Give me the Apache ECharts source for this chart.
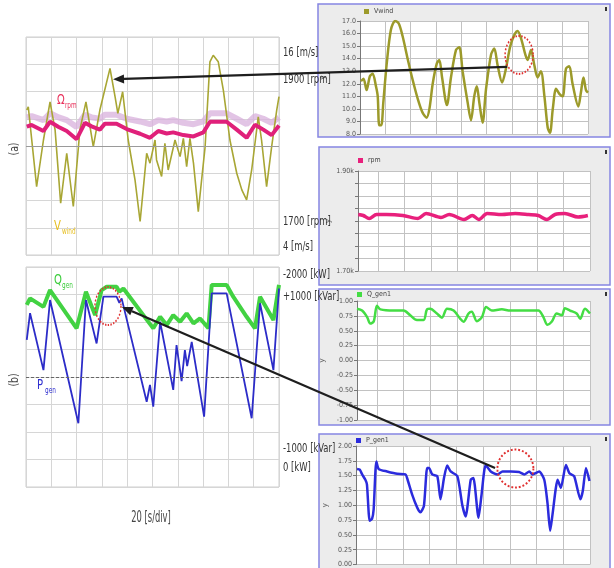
<!DOCTYPE html>
<html><head><meta charset="utf-8">
<script src="https://cdn.jsdelivr.net/npm/echarts@6/dist/echarts.min.js"></script>
<style>html,body{margin:0;padding:0;background:#fff}#c{width:614px;height:568px}</style>
</head><body><div id="c"></div>
<script>
// ---------- data (left: oscilloscope, units = divisions) ----------
const scopeVwindX = [0.03,0.09,0.42,0.69,0.95,1.15,1.37,1.61,1.87,2.13,2.37,2.66,2.92,3.32,3.52,3.63,3.82,4.04,4.31,4.51,4.77,4.90,5.10,5.16,5.36,5.49,5.62,5.89,6.09,6.22,6.35,6.48,6.62,6.81,7.08,7.27,7.40,7.60,7.80,8.06,8.33,8.53,8.72,8.92,9.18,9.31,9.51,9.71,9.91,10.0];
const scopeVwindY = [1.32,1.44,-1.49,0.22,1.62,0.59,-2.10,-0.27,-2.22,0.59,1.62,-0.02,1.32,2.85,1.81,1.20,1.99,0.22,-1.25,-2.77,-0.27,-0.63,0.22,-0.51,-1.12,0.10,-0.88,0.22,-0.39,0.28,-0.76,0.28,-0.63,-2.41,-0.02,3.09,3.33,3.09,2.05,0.22,-1.00,-1.61,-1.98,-0.88,1.07,0.22,-1.49,-0.02,1.32,1.81];
const scopeOmegaX = [0.03,0.22,0.69,0.95,1.29,1.61,2.00,2.33,2.59,2.92,3.12,3.58,3.98,4.51,4.90,5.23,5.56,5.82,6.22,6.62,7.01,7.27,7.93,8.33,8.72,9.05,9.38,9.71,10.0];
const scopeOmegaY = [0.71,0.77,0.55,0.89,0.70,0.55,0.25,0.85,0.72,0.60,0.82,0.82,0.62,0.45,0.30,0.55,0.46,0.50,0.40,0.35,0.50,0.89,0.89,0.60,0.30,0.78,0.60,0.40,0.75];
const scopeOmegaFringe = [1.05,1.10,0.95,1.20,1.05,0.95,0.70,1.15,1.05,1.00,1.15,1.15,1.00,0.90,0.80,0.95,0.90,0.95,0.85,0.80,0.90,1.20,1.20,1.00,0.80,1.10,1.00,0.85,1.05];
const scopeQX = [0.03,0.16,0.69,0.95,2.00,2.37,2.73,2.99,3.19,3.58,3.69,3.85,5.03,5.30,5.56,5.82,6.09,6.35,6.62,6.88,7.21,7.34,7.93,8.19,8.72,9.05,9.25,9.78,10.0];
const scopeQY = [2.62,2.86,2.55,3.16,1.77,3.10,2.25,3.16,3.28,3.28,3.10,3.22,1.77,2.19,1.89,2.25,2.01,2.31,1.95,2.13,1.77,3.35,3.35,2.92,2.19,1.77,2.92,2.07,3.35];
const scopePX = [0.03,0.16,0.69,0.95,2.07,2.37,2.79,3.06,3.58,3.69,3.78,4.77,4.90,5.03,5.30,5.82,5.95,6.15,6.28,6.37,6.55,7.04,7.34,7.93,8.92,9.25,9.78,10.0];
const scopePY = [1.35,2.32,0.25,2.80,-1.68,2.80,1.22,2.92,2.92,2.70,2.86,-0.90,-0.29,-1.08,2.01,-0.47,1.16,-0.15,0.98,0.40,1.28,-1.44,3.04,3.04,-1.50,2.68,0.25,3.22];

// ---------- data (right: simulation panels) ----------
const vwindX = [0.04,0.14,0.26,0.39,0.50,0.63,0.70,0.76,0.84,0.92,1.05,1.22,1.39,1.53,1.68,1.88,2.08,2.28,2.47,2.63,2.74,2.87,3.03,3.13,3.24,3.43,3.59,3.79,3.92,4.05,4.25,4.38,4.51,4.61,4.71,4.84,4.97,5.17,5.30,5.43,5.61,5.76,5.96,6.22,6.36,6.53,6.62,6.75,6.88,7.01,7.14,7.28,7.41,7.50,7.61,7.74,7.87,8.00,8.13,8.26,8.39,8.62,8.72,8.82,8.92,9.0];
const vwindY = [12.2,12.4,11.5,12.6,12.8,11.8,11.0,8.7,8.7,10.5,13.5,16.3,17.0,16.8,15.8,14.0,12.3,10.8,9.7,9.3,10.0,12.0,13.6,13.9,12.5,10.3,12.5,14.7,14.9,13.0,10.5,9.1,11.0,11.8,10.5,8.9,11.5,14.3,14.8,13.5,12.1,13.2,15.2,16.2,15.6,14.3,13.9,14.7,13.5,12.5,13.0,11.0,8.5,8.1,10.0,11.6,11.2,11.0,13.2,13.4,12.0,10.2,11.3,12.5,11.5,11.3];
const rpmX = [0.01,0.20,0.42,0.70,1.07,1.69,2.26,2.57,3.13,3.44,4.00,4.31,4.56,4.87,5.43,5.93,6.43,6.80,7.12,7.43,7.80,8.30,8.67];
const rpmY = [1.813,1.811,1.805,1.813,1.813,1.811,1.805,1.815,1.807,1.813,1.803,1.811,1.803,1.815,1.813,1.815,1.813,1.811,1.803,1.813,1.815,1.808,1.811];
const qX = [0,0.19,0.38,0.50,0.63,0.75,0.88,1.38,1.75,2.0,2.25,2.5,2.63,2.75,3.0,3.19,3.38,3.63,3.88,4.0,4.19,4.31,4.5,4.69,4.85,5.06,5.44,5.75,6.25,6.81,7.0,7.15,7.31,7.5,7.69,7.81,8.0,8.25,8.38,8.56,8.75];
const qY = [0.87,0.84,0.73,0.62,0.66,0.92,0.86,0.84,0.84,0.76,0.68,0.68,0.86,0.87,0.79,0.72,0.87,0.84,0.70,0.65,0.79,0.82,0.66,0.73,0.90,0.84,0.86,0.84,0.84,0.84,0.73,0.60,0.65,0.79,0.76,0.88,0.84,0.79,0.70,0.87,0.79];
const pX = [0.04,0.14,0.23,0.35,0.41,0.51,0.60,0.66,0.76,0.85,1.16,1.54,1.85,1.91,2.10,2.29,2.41,2.54,2.66,2.73,2.85,3.04,3.16,3.29,3.41,3.54,3.79,3.98,4.10,4.29,4.39,4.58,4.69,4.85,5.04,5.29,5.48,5.79,6.10,6.29,6.48,6.60,6.85,7.04,7.16,7.26,7.35,7.54,7.66,7.85,7.98,8.16,8.39,8.48,8.60,8.73];
const pY = [1.61,1.60,1.52,1.43,1.35,0.74,0.77,0.93,1.74,1.61,1.57,1.53,1.52,1.46,1.18,0.96,0.88,0.99,1.63,1.63,1.52,1.49,1.10,1.46,1.67,1.57,1.49,0.99,0.81,1.43,1.46,0.79,1.16,1.68,1.57,1.52,1.57,1.57,1.56,1.52,1.57,1.52,1.57,1.43,1.04,0.57,0.85,1.43,1.29,1.68,1.54,1.49,1.10,1.24,1.63,1.41];

// tick positions for right panels (x) and labels
const simXTicks = [0,0.75,1.75,2.75,3.75,4.75,5.75,6.75,7.75,8.75];
const sideLabels = [
  ['16 [m/s]', 53], ['1900 [rpm]', 80], ['1700 [rpm]', 222], ['4 [m/s]', 247],
  ['-2000 [kW]', 275], ['+1000 [kVar]', 297], ['-1000 [kVar]', 449], ['0 [kW]', 468]
];

const zip = (xs, ys) => xs.map((x, i) => [x, ys[i]]);
const NARROW = '"Liberation Sans Narrow","DejaVu Sans Condensed","Liberation Sans",sans-serif';

const chart = echarts.init(document.getElementById('c'), null, {renderer: 'canvas'});

const scopeX = gi => ({gridIndex: gi, type: 'value', min: 0, max: 10, interval: 1,
  axisLine: {show: false}, axisTick: {show: false}, axisLabel: {show: false},
  splitLine: {show: true, lineStyle: {color: '#d6d6d6', width: 1}}});
const scopeY = gi => ({gridIndex: gi, type: 'value', min: -4, max: 4, interval: 1,
  axisLine: {show: false}, axisTick: {show: false}, axisLabel: {show: false},
  splitLine: {show: true, lineStyle: {color: '#d6d6d6', width: 1}}});
const simX = (gi, opts) => Object.assign({gridIndex: gi, type: 'value', min: 0,
  axisLine: {show: false}, axisTick: {show: false}, axisLabel: {show: false},
  splitLine: {show: true, lineStyle: {color: '#c2c2c2', width: 1}}}, opts);
const simY = (gi, opts) => Object.assign({gridIndex: gi, type: 'value',
  axisLine: {show: true, lineStyle: {color: '#777'}},
  axisTick: {show: true, length: 3, lineStyle: {color: '#777'}},
  axisLabel: {fontSize: 7, color: '#555', margin: 4, fontFamily: NARROW},
  splitLine: {show: true, lineStyle: {color: '#c2c2c2', width: 1}},
  name: 'y', nameLocation: 'middle', nameRotate: 90,
  nameTextStyle: {fontSize: 8, color: '#666'}}, opts);

const legendCommon = {itemWidth: 5, itemHeight: 5, icon: 'rect', padding: 0, selectedMode: false,
  textStyle: {fontSize: 7, color: '#444', fontFamily: NARROW}, itemGap: 2};

const option = {
  animation: false,
  backgroundColor: '#fff',
  grid: [
    {left: 26, top: 37, width: 253, height: 218, show: true, backgroundColor: '#fff', borderColor: '#cfcfcf', borderWidth: 1},
    {left: 26, top: 267, width: 253, height: 220, show: true, backgroundColor: '#fff', borderColor: '#cfcfcf', borderWidth: 1},
    {left: 360, top: 21, width: 228, height: 113, show: true, backgroundColor: '#fff', borderWidth: 0},
    {left: 358, top: 171, width: 232, height: 100, show: true, backgroundColor: '#fff', borderWidth: 0},
    {left: 357, top: 301, width: 233, height: 119, show: true, backgroundColor: '#fff', borderWidth: 0},
    {left: 356, top: 446, width: 234, height: 120, show: true, backgroundColor: '#fff', borderWidth: 0}
  ],
  xAxis: [
    scopeX(0), scopeX(1),
    simX(2, {max: 9, interval: 1}),
    simX(3, {max: 8.75, axisTick: {show: false, customValues: simXTicks}}),
    simX(4, {max: 8.75, axisTick: {show: false, customValues: simXTicks}}),
    simX(5, {max: 8.75, axisTick: {show: false, customValues: simXTicks}})
  ],
  yAxis: [
    scopeY(0), scopeY(1),
    simY(2, {min: 8, max: 17, interval: 1, nameGap: 33,
      axisLabel: {fontSize: 7, color: '#555', margin: 4, fontFamily: NARROW, formatter: v => v.toFixed(1)}}),
    simY(3, {min: 1.7, max: 1.9, interval: 0.025, nameGap: 26,
      axisLabel: {fontSize: 7, color: '#555', margin: 4, fontFamily: NARROW,
        formatter: v => Math.abs(v - 1.9) < 1e-6 ? '1.90k' : (Math.abs(v - 1.7) < 1e-6 ? '1.70k' : '')}}),
    simY(4, {min: -1, max: 1, interval: 0.25, nameGap: 31,
      axisLabel: {fontSize: 7, color: '#555', margin: 4, fontFamily: NARROW, formatter: v => v.toFixed(2)}}),
    simY(5, {min: 0, max: 2, interval: 0.25, nameGap: 27,
      axisLabel: {fontSize: 7, color: '#555', margin: 4, fontFamily: NARROW, formatter: v => v.toFixed(2)}})
  ],
  legend: [
    Object.assign({data: ['Vwind'], left: 364, top: 8}, legendCommon),
    Object.assign({data: ['rpm'], left: 358, top: 157}, legendCommon),
    Object.assign({data: ['Q_gen1'], left: 357, top: 291}, legendCommon),
    Object.assign({data: ['P_gen1'], left: 356, top: 437}, legendCommon)
  ],
  series: [
    {name: 'Ω ripple', type: 'line', xAxisIndex: 0, yAxisIndex: 0, data: zip(scopeOmegaX, scopeOmegaFringe),
      showSymbol: false, lineStyle: {color: '#d8b0dc', width: 6, opacity: 0.75}, z: 1, silent: true},
    {name: 'V_wind', type: 'line', xAxisIndex: 0, yAxisIndex: 0, data: zip(scopeVwindX, scopeVwindY),
      showSymbol: false, lineStyle: {color: '#a8a634', width: 1.6}, z: 2,
      markLine: {silent: true, symbol: 'none', label: {show: false},
        lineStyle: {color: '#9a9a9a', type: 'solid', width: 1}, data: [{yAxis: 0}]}},
    {name: 'Ω_rpm', type: 'line', xAxisIndex: 0, yAxisIndex: 0, data: zip(scopeOmegaX, scopeOmegaY),
      showSymbol: false, lineStyle: {color: '#e0207a', width: 4}, z: 3},
    {name: 'Q_gen', type: 'line', xAxisIndex: 1, yAxisIndex: 1, data: zip(scopeQX, scopeQY),
      showSymbol: false, lineStyle: {color: '#42d242', width: 4}, z: 2,
      markLine: {silent: true, symbol: 'none', label: {show: false},
        lineStyle: {color: '#666', type: [3, 2], width: 1}, data: [{yAxis: 0}]}},
    {name: 'P_gen', type: 'line', xAxisIndex: 1, yAxisIndex: 1, data: zip(scopePX, scopePY),
      showSymbol: false, lineStyle: {color: '#2c2cc8', width: 1.8}, z: 3},
    {name: 'Vwind', type: 'line', xAxisIndex: 2, yAxisIndex: 2, data: zip(vwindX, vwindY), color: '#9c9a2a',
      showSymbol: false, smooth: 0.3, lineStyle: {color: '#9c9a2a', width: 2.5}},
    {name: 'rpm', type: 'line', xAxisIndex: 3, yAxisIndex: 3, data: zip(rpmX, rpmY), color: '#e8207c',
      showSymbol: false, smooth: 0.3, lineStyle: {color: '#e8207c', width: 3.5}},
    {name: 'Q_gen1', type: 'line', xAxisIndex: 4, yAxisIndex: 4, data: zip(qX, qY), color: '#44dd44',
      showSymbol: false, smooth: 0.3, lineStyle: {color: '#44dd44', width: 2.5}},
    {name: 'P_gen1', type: 'line', xAxisIndex: 5, yAxisIndex: 5, data: zip(pX, pY), color: '#2b2bdd',
      showSymbol: false, smooth: 0.2, lineStyle: {color: '#2b2bdd', width: 2.5}}
  ]
};
chart.setOption(option);

// ---------- annotations (anchored on data coordinates) ----------
const px = (g, p) => chart.convertToPixel({gridIndex: g}, p);
const arrowDefs = [
  {from: [2, [5.81, 13.35]], to: [0, [3.44, 2.45]]},
  {from: [5, [5.20, 1.63]], to: [1, [3.79, 2.55]]}
];
const circleDefs = [
  {at: [2, [6.28, 14.3]], rx: 14, ry: 19},
  {at: [5, [5.96, 1.62]], rx: 18, ry: 19},
  {at: [1, [3.24, 2.58]], rx: 13, ry: 19}
];
const g = [];
// panel boxes
[[318, 4, 292, 133], [319, 147, 291, 138], [319, 289, 291, 136], [319, 434, 291, 140]].forEach(b => {
  g.push({type: 'rect', z: -5, shape: {x: b[0], y: b[1], width: b[2], height: b[3]},
    style: {fill: '#ececec', stroke: '#8585e2', lineWidth: 1.5}});
  g.push({type: 'rect', z: 5, shape: {x: b[0] + b[2] - 5, y: b[1] + 3, width: 2, height: 4}, style: {fill: '#333'}});
});
arrowDefs.forEach(a => {
  const s = px(a.from[0], a.from[1]), e = px(a.to[0], a.to[1]);
  const dx = e[0] - s[0], dy = e[1] - s[1], L = Math.hypot(dx, dy), ux = dx / L, uy = dy / L;
  const hl = 11, hw = 4.5;
  const bx = e[0] - ux * hl, by = e[1] - uy * hl;
  g.push({type: 'line', z: 60, shape: {x1: s[0], y1: s[1], x2: bx, y2: by}, style: {stroke: '#1e1e1e', lineWidth: 2.2}});
  g.push({type: 'polygon', z: 60, shape: {points: [e, [bx - uy * hw, by + ux * hw], [bx + uy * hw, by - ux * hw]]},
    style: {fill: '#1e1e1e'}});
});
circleDefs.forEach(c => {
  const p = px(c.at[0], c.at[1]);
  g.push({type: 'circle', z: 55, x: p[0], y: p[1], scaleX: c.rx / c.ry, shape: {cx: 0, cy: 0, r: c.ry},
    style: {fill: 'none', stroke: '#e03030', lineWidth: 2, lineDash: [2, 2]}});
});
sideLabels.forEach(l => {
  g.push({type: 'text', z: 50, x: 283, y: l[1], scaleX: 0.72, style: {text: l[0], fontFamily: NARROW, fontSize: 13,
    fill: '#333', verticalAlign: 'middle', align: 'left'}});
});
g.push({type: 'text', z: 50, x: 151, y: 518, scaleX: 0.62, style: {text: '20 [s/div]', fontFamily: NARROW, fontSize: 15,
  fill: '#444', align: 'center', verticalAlign: 'middle'}});
g.push({type: 'text', z: 50, x: 15, y: 149, rotation: Math.PI / 2, scaleX: 0.8, style: {text: '(a)', fontFamily: NARROW, fontSize: 13,
  fill: '#444', align: 'center', verticalAlign: 'middle'}});
g.push({type: 'text', z: 50, x: 15, y: 380, rotation: Math.PI / 2, scaleX: 0.8, style: {text: '(b)', fontFamily: NARROW, fontSize: 13,
  fill: '#444', align: 'center', verticalAlign: 'middle'}});
// scope trace names with subscripts
[
  ['Ω', 'rpm', 57, 100, '#e8305a'],
  ['V', 'wind', 54, 226, '#e6bd1c'],
  ['Q', 'gen', 54, 280, '#3ccc3c'],
  ['P', 'gen', 37, 385, '#3030d0']
].forEach(t => {
  g.push({type: 'text', z: 50, x: t[2], y: t[3], scaleX: 0.8, style: {text: t[0], fontFamily: NARROW, fontSize: 14,
    fill: t[4], verticalAlign: 'middle', align: 'left'}});
  g.push({type: 'text', z: 50, x: t[2] + 8, y: t[3] + 6, scaleX: 0.8, style: {text: t[1], fontFamily: NARROW, fontSize: 8,
    fill: t[4], verticalAlign: 'middle', align: 'left'}});
});
chart.setOption({graphic: {elements: g}});
</script>
</body></html>
